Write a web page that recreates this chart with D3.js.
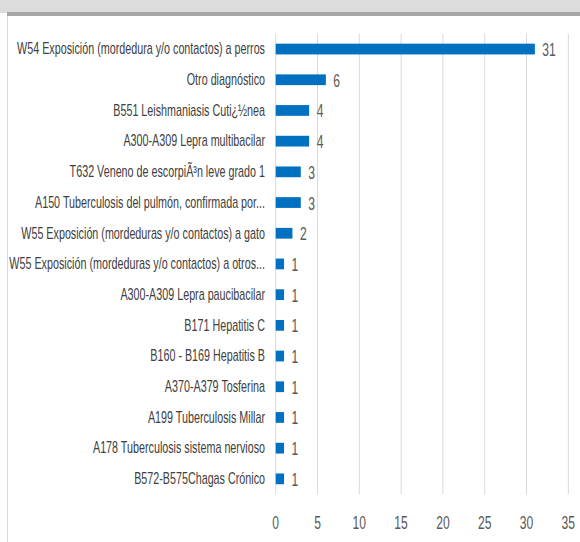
<!DOCTYPE html>
<html>
<head>
<meta charset="utf-8">
<script src="https://cdn.jsdelivr.net/npm/d3@7"></script>
<style>
  body{margin:0;background:#fff;}
  svg{display:block;}
</style>
</head>
<body>
<script>
const categories=[
  "W54 Exposición (mordedura y/o contactos) a perros",
  "Otro diagnóstico",
  "B551 Leishmaniasis Cuti¿½nea",
  "A300-A309 Lepra multibacilar",
  "T632 Veneno de escorpiÃ³n leve grado 1",
  "A150 Tuberculosis del pulmón, confirmada por...",
  "W55 Exposición (mordeduras y/o contactos) a gato",
  "W55 Exposición (mordeduras y/o contactos) a otros...",
  "A300-A309 Lepra paucibacilar",
  "B171 Hepatitis C",
  "B160 - B169 Hepatitis B",
  "A370-A379 Tosferina",
  "A199 Tuberculosis Millar",
  "A178 Tuberculosis sistema nervioso",
  "B572-B575Chagas Crónico"
];
const values=[31,6,4,4,3,3,2,1,1,1,1,1,1,1,1];
const xTicks=[0,5,10,15,20,25,30,35];

const w=580,h=542;
const plot={top:33.7,bottom:494.2,left:275.7,right:568.3};

const svg=d3.select("body").append("svg").attr("width",w).attr("height",h);

// header band and frame
svg.append("rect").attr("x",0).attr("y",0).attr("width",w).attr("height",13).attr("fill","#dcdcdc");
svg.append("rect").attr("x",7).attr("y",12).attr("width",w-7).attr("height",4).attr("fill","#a6a6a6");
svg.append("line").attr("x1",7.5).attr("x2",7.5).attr("y1",16).attr("y2",h)
  .attr("stroke","#d9d9d9").attr("stroke-width",1);

const xScale=d3.scaleLinear().domain([0,35]).range([plot.left,plot.right]);
const yScale=d3.scaleBand().domain(categories).range([plot.top,plot.bottom])
  .paddingInner(0.65).paddingOuter(0.325);

// gridlines
svg.append("g").selectAll("line").data(xTicks).enter().append("line")
  .attr("x1",d=>xScale(d)).attr("x2",d=>xScale(d))
  .attr("y1",plot.top).attr("y2",plot.bottom)
  .attr("stroke","#d9d9d9").attr("stroke-width",1);

const font="'Liberation Sans', Arial, sans-serif";

// squeeze factor so text looks like the narrow original font
const probe=svg.append("text").style("font-family",font).style("font-size","16px").text(categories[0]);
const sx=248/probe.node().getComputedTextLength();
probe.remove();

function squeezed(g,x,y,txt,anchor,color,size){
  g.append("text")
    .attr("transform",`translate(${x},${y}) scale(${sx},1)`)
    .attr("text-anchor",anchor)
    .attr("dominant-baseline","central")
    .style("font-family",font).style("font-size",size+"px")
    .attr("fill",color)
    .text(txt);
}

// bars
svg.append("g").selectAll("rect").data(values).enter().append("rect")
  .attr("x",xScale(0))
  .attr("y",(d,i)=>yScale(categories[i]))
  .attr("width",d=>xScale(d)-xScale(0))
  .attr("height",yScale.bandwidth())
  .attr("fill","#0070c0");

const labels=svg.append("g");
categories.forEach((c,i)=>{
  const yc=yScale(c)+yScale.bandwidth()/2;
  squeezed(labels,265,yc,c,"end","#404040",16);
  squeezed(labels,xScale(values[i])+7.5,yc+0.5,String(values[i]),"start","#595959",18);
});

const ticks=svg.append("g");
xTicks.forEach(t=>squeezed(ticks,xScale(t),523,String(t),"middle","#595959",18));
</script>
</body>
</html>
